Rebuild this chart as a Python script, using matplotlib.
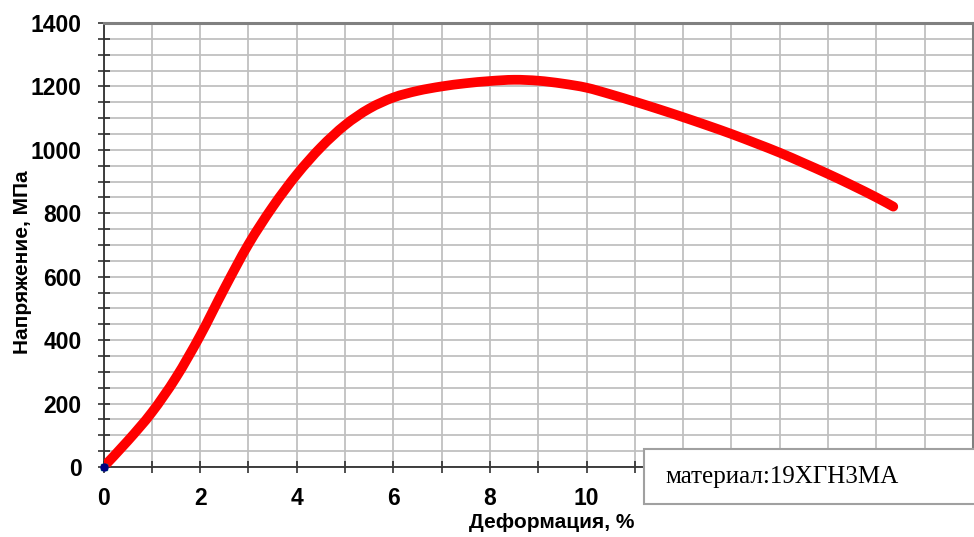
import matplotlib
matplotlib.use("Agg")
import matplotlib.pyplot as plt
from matplotlib.patches import Rectangle, PathPatch
from matplotlib.path import Path
from matplotlib.ticker import MultipleLocator

strain = [0, 0.5, 1, 1.5, 2, 2.5, 3, 3.5, 4, 4.5, 5, 5.5, 6, 6.5, 7,
          7.5, 8, 8.5, 9, 9.5, 10, 10.5, 11, 11.5, 12, 12.5, 13, 13.5, 14,
          14.5, 15, 15.5, 16, 16.35]
stress = [0, 82, 172, 282, 414, 562, 702, 820, 922, 1008, 1078, 1130,
          1165, 1186, 1200, 1210, 1217, 1221, 1218, 1209, 1196, 1175, 1152,
          1128, 1103, 1077, 1050, 1021, 991, 958, 924, 888, 850, 821]

x_ticks = [0, 2, 4, 6, 8, 10, 12, 14, 16, 18]
x_tick_labels = ['0', '2', '4', '6', '8', '10', '', '', '', '']  # остальные закрыты рамкой
y_ticks = [0, 200, 400, 600, 800, 1000, 1200, 1400]

x_label = 'Деформация, %'
y_label = 'Напряжение, МПа'
note = 'материал:19ХГН3МА'


def smooth_path(xs, ys):
    # сглаженная линия как в Excel (Безье через точки)
    pts = list(zip(xs, ys))
    n = len(pts)
    verts = [pts[0]]
    codes = [Path.MOVETO]
    for i in range(n - 1):
        p0 = pts[i - 1] if i > 0 else pts[i]
        p1 = pts[i]
        p2 = pts[i + 1]
        p3 = pts[i + 2] if i + 2 < n else pts[i + 1]
        c1 = (p1[0] + (p2[0] - p0[0]) / 6, p1[1] + (p2[1] - p0[1]) / 6)
        c2 = (p2[0] - (p3[0] - p1[0]) / 6, p2[1] - (p3[1] - p1[1]) / 6)
        verts += [c1, c2, p2]
        codes += [Path.CURVE4] * 3
    return Path(verts, codes)


W, H = 974, 537
fig = plt.figure(figsize=(W / 100, H / 100), dpi=100)
fig.patch.set_facecolor('white')

# положение области построения в пикселях
left, right, top, bottom = 103.5, 973, 23, 467
ax = fig.add_axes([left / W, 1 - bottom / H, (right - left) / W, (bottom - top) / H])

curve = PathPatch(smooth_path(strain, stress), facecolor='none', edgecolor='#ff0000',
                  lw=7, capstyle='round', joinstyle='round', zorder=3)
ax.add_patch(curve)
# маркер в начале координат
ax.plot([0], [0], marker='s', ms=5, color='#008080', ls='none', zorder=4, clip_on=False)
ax.plot([0], [0], marker='o', ms=5, color='#000080', ls='none', zorder=5, clip_on=False)

ax.set_xlim(0, 18)
ax.set_ylim(0, 1400)
ax.set_xticks(x_ticks)
ax.set_xticklabels(x_tick_labels)
ax.set_yticks(y_ticks)
ax.xaxis.set_minor_locator(MultipleLocator(1))
ax.yaxis.set_minor_locator(MultipleLocator(50))

ax.grid(True, which='both', color='#c0c0c0', lw=1.3)
ax.set_axisbelow(True)

for s in ('left', 'bottom'):
    ax.spines[s].set_color('#303030')
    ax.spines[s].set_linewidth(1.3)
for s in ('top', 'right'):
    ax.spines[s].set_color('#808080')
    ax.spines[s].set_linewidth(2.2)

ax.tick_params(which='both', direction='inout', length=8.5, width=1.1, color='#202020')
ax.tick_params(axis='y', pad=11.5)
ax.tick_params(axis='x', pad=10)
for lab in ax.get_xticklabels() + ax.get_yticklabels():
    lab.set_fontfamily('Liberation Sans')
    lab.set_fontweight('bold')
    lab.set_fontsize(16.5)

fig.text(552 / W, 1 - 522 / H, x_label, ha='center', va='center',
         family='Liberation Sans', weight='bold', fontsize=15)
fig.text(23 / W, 1 - 262 / H, y_label, ha='center', va='center', rotation=90,
         family='Liberation Sans', weight='bold', fontsize=15)

# подпись материала в рамке
box = Rectangle((644 / W, 1 - 504 / H), (W + 5 - 644) / W, (504 - 449) / H,
                transform=fig.transFigure, facecolor='white', edgecolor='#a0a0a0',
                lw=1.5, zorder=10)
fig.add_artist(box)
fig.text(665 / W, 1 - 483 / H, note, ha='left', va='baseline',
         family='Liberation Serif', fontsize=18, zorder=11)

fig.savefig('out.png', dpi=100)
